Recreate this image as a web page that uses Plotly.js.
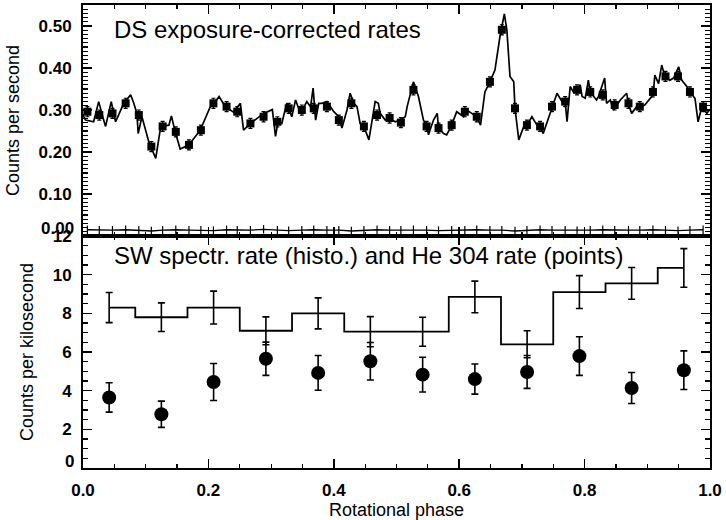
<!DOCTYPE html>
<html>
<head>
<meta charset="utf-8">
<script src="https://cdn.plot.ly/plotly-3.0.1.min.js"></script>
<style>html,body{margin:0;padding:0;background:#fff;}#chart{width:726px;height:520px;}</style>
</head>
<body>
<div id="chart"></div>
<script>
// ---- Top panel: DS exposure-corrected rates (counts per second) ----
const dsPhase = [0.000,0.004,0.017,0.025,0.033,0.036,0.045,0.052,0.065,0.076,0.081,0.086,0.088,0.094,0.105,0.116,0.124,0.137,0.141,0.147,0.155,0.169,0.187,0.203,0.209,0.217,0.227,0.240,0.251,0.256,
0.267,0.280,0.288,0.302,0.304,0.307,0.311,0.317,0.325,0.333,0.339,0.347,0.357,0.363,0.367,0.371,0.376,0.381,0.389,0.400,0.408,0.413,0.421,0.426,0.432,0.437,0.442,0.448,0.456,0.461,0.466,0.471,0.474,0.482,0.487,0.498,0.506,0.514,
0.517,0.527,0.535,0.543,0.549,0.551,0.559,0.565,0.567,0.575,0.580,0.588,0.596,0.607,0.612,0.620,0.628,0.634,0.641,0.649,0.657,0.665,0.672,0.676,0.681,0.687,0.689,0.695,0.703,0.708,0.716,0.724,0.729,0.734,0.748,
0.756,0.764,0.769,0.772,0.777,0.782,0.788,0.793,0.796,0.801,0.806,0.809,0.814,0.819,0.822,0.832,0.835,0.841,0.846,0.857,0.867,0.870,0.875,0.883,0.888,0.896,0.907,0.910,0.912,0.918,0.923,0.928,0.936,0.942,0.950,0.955,0.963,0.968,0.976,0.981,0.987,0.995,1.000];
const dsRate = [0.288,0.276,0.272,0.320,0.276,0.261,0.320,0.272,0.316,0.336,0.316,0.292,0.244,0.284,0.224,0.185,0.261,0.264,0.286,0.248,0.207,0.217,0.252,0.308,0.316,0.332,0.308,0.295,0.316,0.252,
0.268,0.284,0.292,0.301,0.272,0.237,0.272,0.268,0.316,0.284,0.324,0.292,0.320,0.308,0.352,0.276,0.316,0.316,0.320,0.296,0.284,0.257,0.300,0.340,0.316,0.308,0.268,0.261,0.229,0.276,0.320,0.316,0.292,0.276,0.281,0.272,0.276,0.284,
0.308,0.367,0.332,0.276,0.261,0.241,0.276,0.292,0.257,0.244,0.241,0.264,0.296,0.284,0.300,0.292,0.284,0.264,0.343,0.367,0.395,0.475,0.529,0.491,0.380,0.367,0.304,0.229,0.261,0.264,0.284,0.264,0.261,0.244,0.308,
0.340,0.320,0.320,0.272,0.356,0.343,0.348,0.360,0.332,0.328,0.371,0.343,0.332,0.324,0.332,0.376,0.316,0.324,0.300,0.324,0.340,0.316,0.292,0.308,0.308,0.312,0.332,0.348,0.383,0.363,0.407,0.380,0.371,0.376,0.403,0.371,0.356,0.343,0.328,0.272,0.308,0.292,0.302];

const binPhase = [0.007,0.026,0.047,0.068,0.089,0.109,0.127,0.148,0.169,0.188,0.208,0.229,0.246,0.267,0.288,0.310,0.328,0.349,0.368,0.389,0.408,0.428,0.448,0.469,0.489,
0.507,0.527,0.548,0.567,0.588,0.609,0.628,0.649,0.668,0.689,0.708,0.729,0.748,0.769,0.788,0.809,0.829,0.848,0.870,0.888,0.909,0.929,0.949,0.968,0.989];
const binRate = [0.296,0.288,0.292,0.316,0.288,0.213,0.261,0.248,0.217,0.252,0.316,0.308,0.296,0.268,0.284,0.272,0.304,0.300,0.304,0.308,0.276,0.316,0.261,0.288,0.281,
0.270,0.348,0.261,0.257,0.264,0.296,0.284,0.367,0.491,0.304,0.264,0.261,0.308,0.320,0.348,0.343,0.336,0.312,0.316,0.308,0.343,0.380,0.380,0.343,0.308];
const binErr = 0.012;

const bgRate = [0.015,0.014,0.014,0.015,0.014,0.012,0.014,0.015,0.014,0.014,0.013,0.015,0.014,0.014,0.016,0.014,0.013,0.014,0.015,0.014,0.014,0.012,0.014,0.015,0.014,
0.014,0.015,0.014,0.013,0.014,0.014,0.015,0.014,0.014,0.012,0.014,0.015,0.014,0.014,0.013,0.014,0.015,0.014,0.014,0.014,0.015,0.014,0.013,0.014,0.015];
const bgErr = 0.010;

// ---- Bottom panel ----
const phaseCenters = [0.0417,0.125,0.2083,0.2917,0.375,0.4583,0.5417,0.625,0.7083,0.7917,0.875,0.9583];
const swRate = [8.3,7.8,8.3,7.1,8.0,7.05,7.05,8.85,6.4,9.1,9.55,10.35];
const swErr  = [0.78,0.74,0.85,0.72,0.8,0.78,0.75,0.82,0.7,0.85,0.82,1.0];
const heRate = [3.65,2.78,4.45,5.65,4.92,5.52,4.83,4.6,4.97,5.79,4.14,5.06];
const heErr  = [0.76,0.68,0.96,0.86,0.9,0.97,0.9,0.78,0.85,1.0,0.8,1.0];

const topTickVals = [0,0.1,0.2,0.3,0.4,0.5];
const topTickText = ['','0.10','0.20','0.30','0.40','0.50'];
const botTickVals = [0,2,4,6,8,10,12];
const botTickText = ['','2','4','6','8','10','12'];
const xTickVals = [0,0.2,0.4,0.6,0.8,1.0];
const xTickText = ['0.0','0.2','0.4','0.6','0.8','1.0'];

const FONT = 'Liberation Sans, Arial, Helvetica, sans-serif';
const tickFont = {family: FONT, size: 17, color: '#000', weight: 'bold'};
const titleFont = {family: FONT, size: 18, color: '#000'};

const traces = [
  {x: dsPhase, y: dsRate, xaxis: 'x2', yaxis: 'y2', type: 'scatter', mode: 'lines',
   line: {color: '#000', width: 1.7}, hoverinfo: 'skip'},
  {x: binPhase, y: binRate, xaxis: 'x2', yaxis: 'y2', type: 'scatter', mode: 'markers',
   marker: {symbol: 'square', size: 8, color: '#000'},
   error_y: {type: 'constant', value: binErr, color: '#000', thickness: 1.2, width: 2}},
  {x: binPhase, y: bgRate, xaxis: 'x2', yaxis: 'y2', type: 'scatter', mode: 'lines',
   line: {color: '#000', width: 1.3},
   error_y: {type: 'constant', value: bgErr, color: '#000', thickness: 1.2, width: 0}},
  {x: phaseCenters, y: swRate, xaxis: 'x', yaxis: 'y', type: 'scatter', mode: 'lines',
   line: {color: '#000', width: 1.8, shape: 'hvh'},
   error_y: {type: 'data', array: swErr, color: '#000', thickness: 1.6, width: 3.5}},
  {x: phaseCenters, y: heRate, xaxis: 'x', yaxis: 'y', type: 'scatter', mode: 'markers',
   marker: {symbol: 'circle', size: 14, color: '#000'},
   error_y: {type: 'data', array: heErr, color: '#000', thickness: 1.6, width: 3.5}}
];

const axCommon = {showline: true, linewidth: 2, linecolor: '#000', mirror: 'ticks',
  ticks: 'inside', ticklen: 9, tickwidth: 1.5, tickcolor: '#000',
  showgrid: false, zeroline: false, tickfont: tickFont};

const layout = {
  width: 726, height: 520,
  margin: {l: 82.5, r: 16, t: 5, b: 52, pad: 0},
  paper_bgcolor: '#fff', plot_bgcolor: '#fff',
  showlegend: false,
  font: {family: FONT, color: '#000'},
  xaxis: Object.assign({}, axCommon, {anchor: 'y', range: [0, 1], tickmode: 'array',
    tickvals: xTickVals, ticktext: xTickText, ticklabelstandoff: 6,
    minor: {ticks: 'inside', ticklen: 4, tickwidth: 1.2, tickcolor: '#000', tickmode: 'linear', tick0: 0, dtick: 0.05, showgrid: false},
    title: {text: 'Rotational phase', font: titleFont, standoff: 6}}),
  xaxis2: Object.assign({}, axCommon, {anchor: 'y2', matches: 'x', range: [0, 1], tickmode: 'array',
    tickvals: xTickVals, showticklabels: false,
    minor: {ticks: 'inside', ticklen: 4, tickwidth: 1.2, tickcolor: '#000', tickmode: 'linear', tick0: 0, dtick: 0.05, showgrid: false}}),
  yaxis: Object.assign({}, axCommon, {anchor: 'x', domain: [0, 0.501], range: [0, 12],
    tickmode: 'array', tickvals: botTickVals, ticktext: botTickText, ticklabelstandoff: 6,
    minor: {ticks: 'inside', ticklen: 5, tickwidth: 1.2, tickcolor: '#000', tickmode: 'linear', tick0: 0, dtick: 0.5, showgrid: false},
    title: {text: 'Counts per kilosecond', font: titleFont, standoff: 14}}),
  yaxis2: Object.assign({}, axCommon, {anchor: 'x2', domain: [0.501, 1], range: [0, 0.55],
    tickmode: 'array', tickvals: topTickVals, ticktext: topTickText, ticklabelstandoff: 6,
    minor: {ticks: 'inside', ticklen: 5, tickwidth: 1.2, tickcolor: '#000', tickmode: 'linear', tick0: 0, dtick: 0.01, showgrid: false},
    title: {text: 'Counts per second', font: titleFont, standoff: 14}}),
  annotations: [
    {xref: 'paper', yref: 'y2', x: 0, y: 0, text: '0.00', showarrow: false,
     xanchor: 'right', yanchor: 'middle', xshift: -7, yshift: 8, font: tickFont},
    {xref: 'paper', yref: 'y', x: 0, y: 0, text: '0', showarrow: false,
     xanchor: 'right', yanchor: 'middle', xshift: -7, yshift: 6, font: tickFont},
    {xref: 'x2', yref: 'paper', x: 0.047, y: 0.948, text: 'DS exposure-corrected rates', showarrow: false,
     xanchor: 'left', yanchor: 'middle', font: {family: FONT, size: 24, color: '#000'}},
    {xref: 'x', yref: 'paper', x: 0.047, y: 0.458, text: 'SW spectr. rate (histo.) and He 304 rate (points)', showarrow: false,
     xanchor: 'left', yanchor: 'middle', font: {family: FONT, size: 24, color: '#000'}}
  ]
};

Plotly.newPlot('chart', traces, layout, {displayModeBar: false, staticPlot: true});
</script>
</body>
</html>
